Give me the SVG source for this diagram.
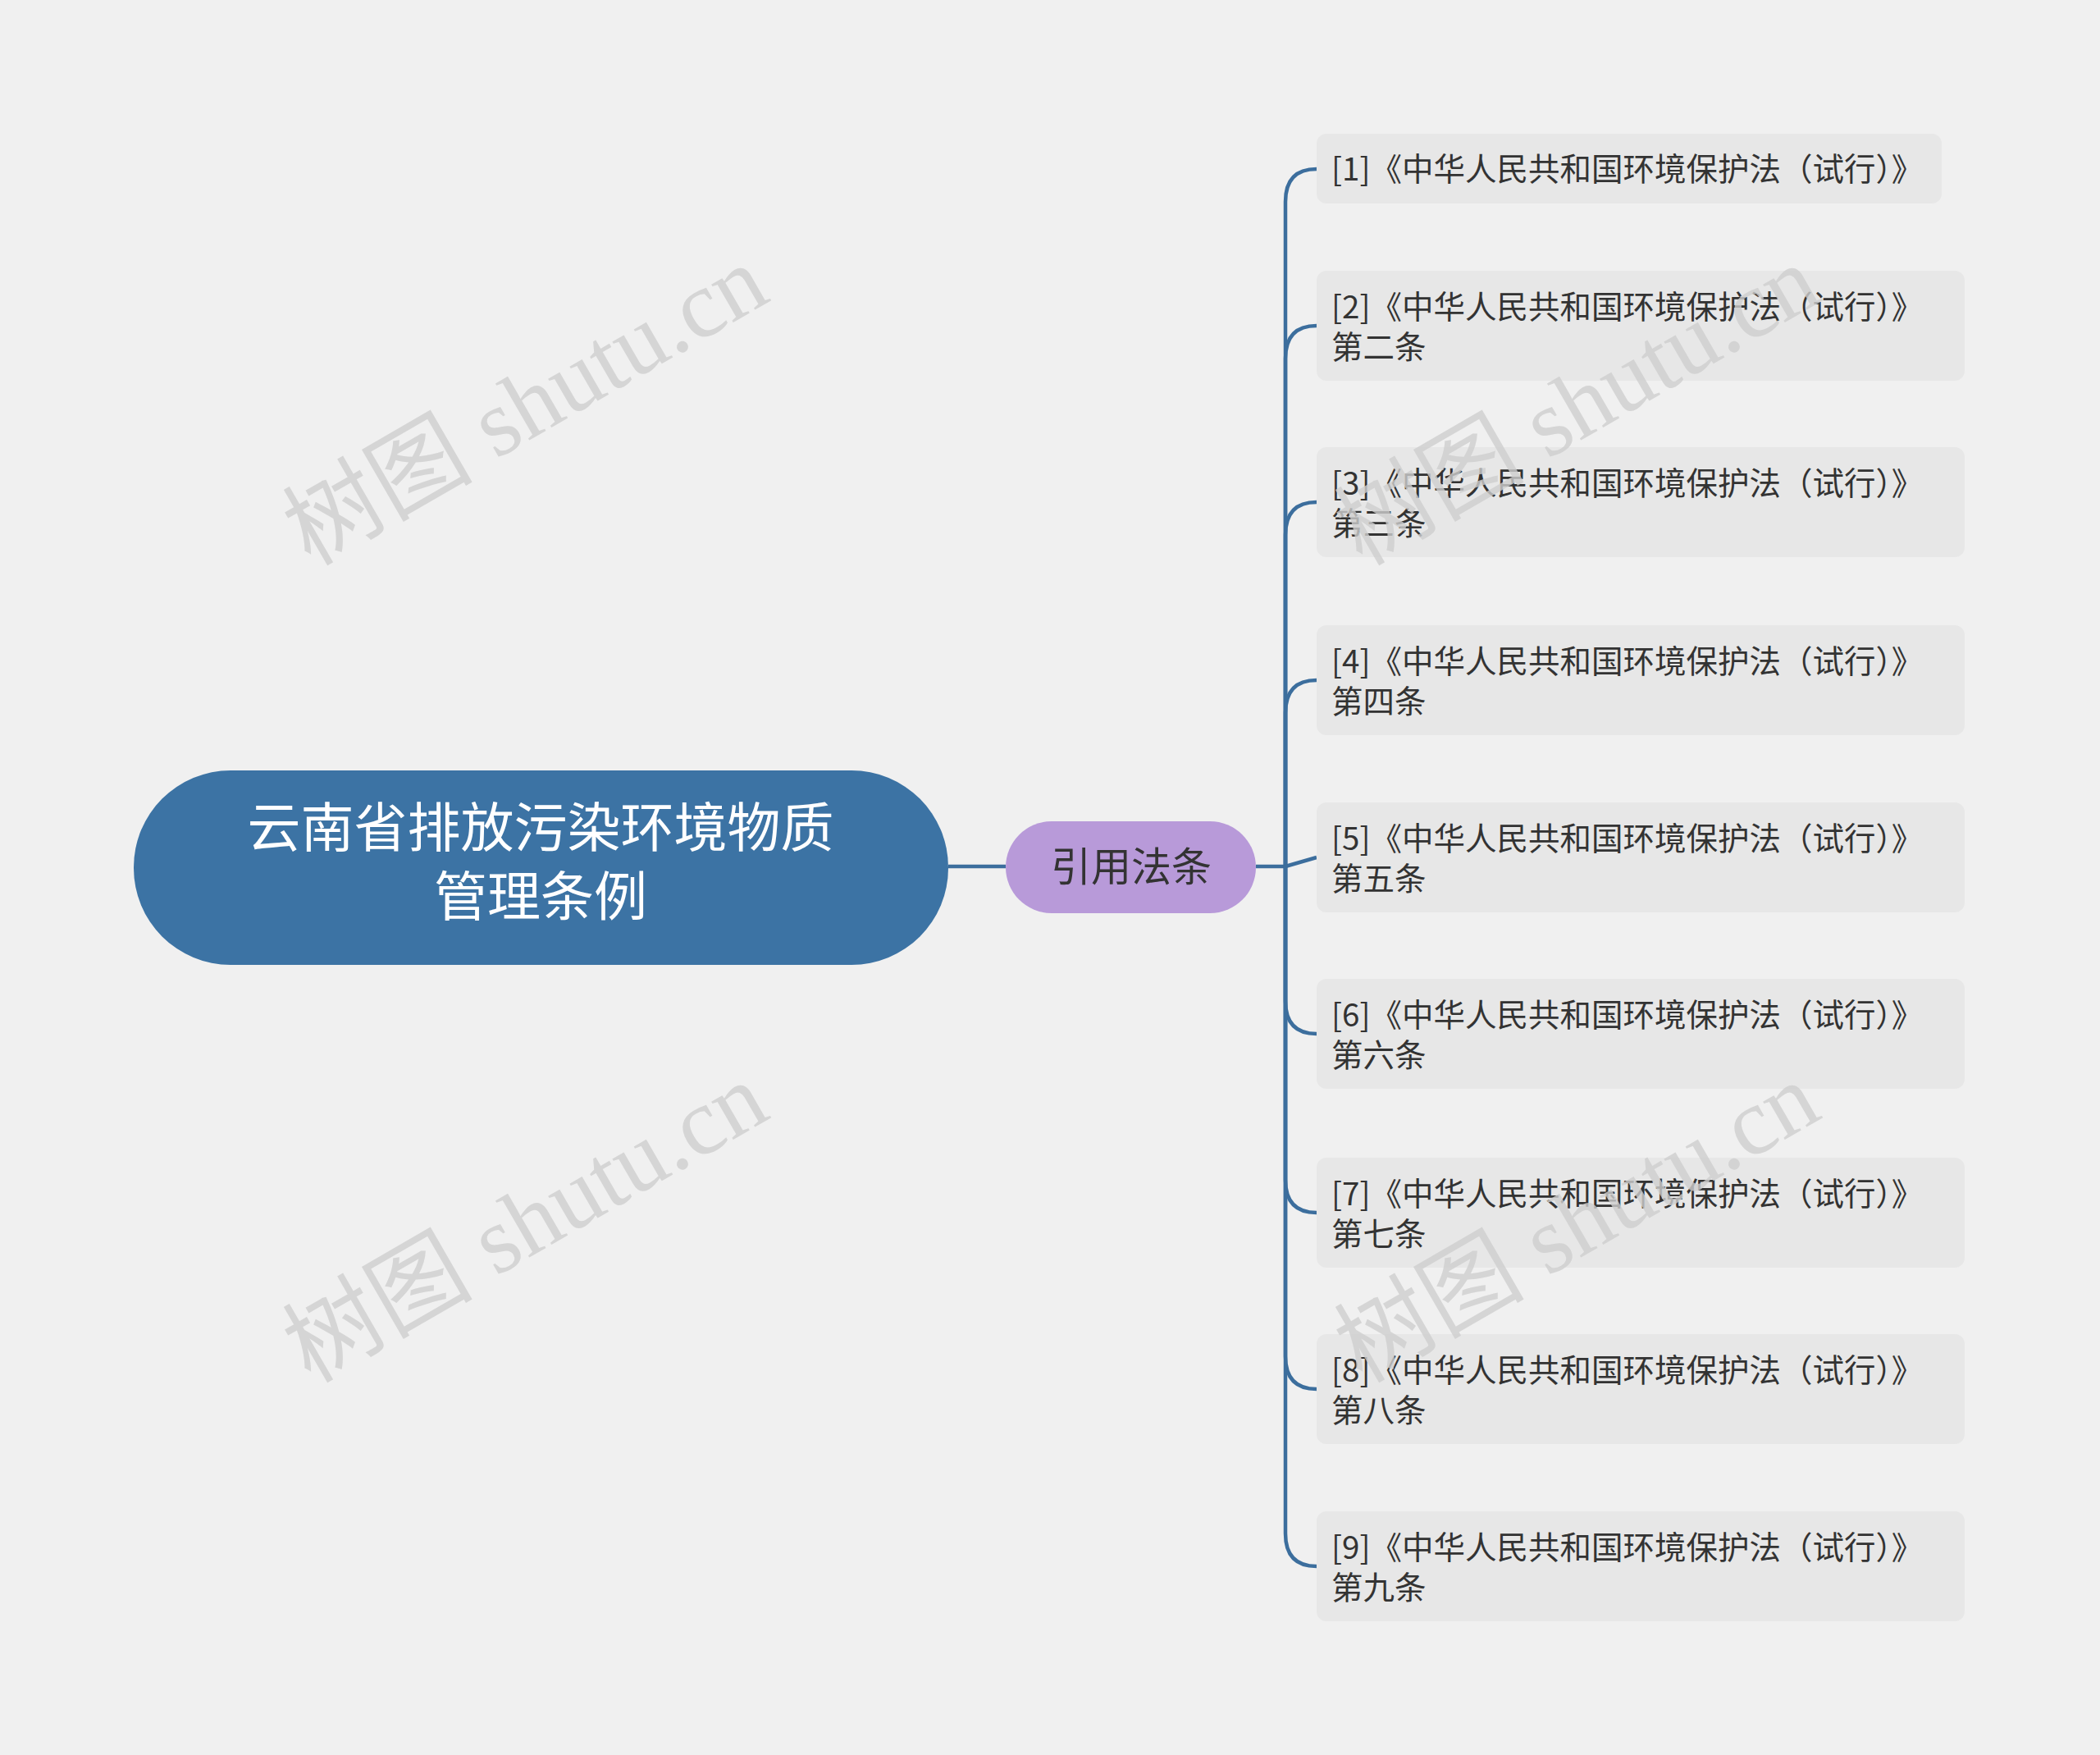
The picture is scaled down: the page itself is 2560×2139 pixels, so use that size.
<svg xmlns="http://www.w3.org/2000/svg" width="2560" height="2139" viewBox="0 0 2560 2139">
<style>
.leaf{fill:#e7e7e7}
.lt{font-family:"Noto Sans CJK SC","Noto Sans",sans-serif;font-size:38.5px;fill:#333}
.c{fill:none;stroke:#3c6e9d;stroke-width:4.5}
.wm{font-family:"Liberation Serif","Noto Sans CJK SC",serif;font-size:116px;fill:#cfcfcf;opacity:0.8}
</style>
<rect width="2560" height="2139" fill="#f0f0f0"/>
<g id="connectors">
<path class="c" d="M1156 1056 L1226 1056"/>
<path class="c" d="M1531 1056 L1567 1056"/>
<path class="c" d="M1567 1056 L1567 246 Q1567 206 1605 206"/>
<path class="c" d="M1567 1056 L1567 437 Q1567 397 1605 397"/>
<path class="c" d="M1567 1056 L1567 652 Q1567 612 1605 612"/>
<path class="c" d="M1567 1056 L1567 869 Q1567 829 1605 829"/>
<path class="c" d="M1567 1056 L1605 1045"/>
<path class="c" d="M1567 1056 L1567 1220 Q1567 1260 1605 1260"/>
<path class="c" d="M1567 1056 L1567 1438 Q1567 1478 1605 1478"/>
<path class="c" d="M1567 1056 L1567 1653 Q1567 1693 1605 1693"/>
<path class="c" d="M1567 1056 L1567 1869 Q1567 1909 1605 1909"/>
</g>
<g id="root">
<rect x="163" y="939" width="993" height="237" rx="118" fill="#3c73a4"/>
<text x="659" y="1032" text-anchor="middle" font-family="Noto Sans CJK SC,sans-serif" font-size="65" fill="#fff">云南省排放污染环境物质</text>
<text x="659" y="1116" text-anchor="middle" font-family="Noto Sans CJK SC,sans-serif" font-size="65" fill="#fff">管理条例</text>
</g>
<g id="mid">
<rect x="1226" y="1001" width="305" height="112" rx="56" fill="#b89ad9"/>
<text x="1379" y="1074" text-anchor="middle" font-family="Noto Sans CJK SC,sans-serif" font-size="49" fill="#333">引用法条</text>
</g>
<g id="leaf1"><rect class="leaf" x="1605" y="163" width="762" height="85" rx="12"/><text class="lt" x="1623" y="220">[1]《中华人民共和国环境保护法（试行）》</text></g>
<g id="leaf2"><rect class="leaf" x="1605" y="330" width="790" height="134" rx="12"/><text class="lt" x="1623" y="388">[2]《中华人民共和国环境保护法（试行）》</text><text class="lt" x="1623" y="437">第二条</text></g>
<g id="leaf3"><rect class="leaf" x="1605" y="545" width="790" height="134" rx="12"/><text class="lt" x="1623" y="603">[3]《中华人民共和国环境保护法（试行）》</text><text class="lt" x="1623" y="652">第三条</text></g>
<g id="leaf4"><rect class="leaf" x="1605" y="762" width="790" height="134" rx="12"/><text class="lt" x="1623" y="820">[4]《中华人民共和国环境保护法（试行）》</text><text class="lt" x="1623" y="869">第四条</text></g>
<g id="leaf5"><rect class="leaf" x="1605" y="978" width="790" height="134" rx="12"/><text class="lt" x="1623" y="1036">[5]《中华人民共和国环境保护法（试行）》</text><text class="lt" x="1623" y="1085">第五条</text></g>
<g id="leaf6"><rect class="leaf" x="1605" y="1193" width="790" height="134" rx="12"/><text class="lt" x="1623" y="1251">[6]《中华人民共和国环境保护法（试行）》</text><text class="lt" x="1623" y="1300">第六条</text></g>
<g id="leaf7"><rect class="leaf" x="1605" y="1411" width="790" height="134" rx="12"/><text class="lt" x="1623" y="1469">[7]《中华人民共和国环境保护法（试行）》</text><text class="lt" x="1623" y="1518">第七条</text></g>
<g id="leaf8"><rect class="leaf" x="1605" y="1626" width="790" height="134" rx="12"/><text class="lt" x="1623" y="1684">[8]《中华人民共和国环境保护法（试行）》</text><text class="lt" x="1623" y="1733">第八条</text></g>
<g id="leaf9"><rect class="leaf" x="1605" y="1842" width="790" height="134" rx="12"/><text class="lt" x="1623" y="1900">[9]《中华人民共和国环境保护法（试行）》</text><text class="lt" x="1623" y="1949">第九条</text></g>
<g id="watermarks">
<text class="wm" text-anchor="middle" transform="translate(660,528) rotate(-30)">树图 shutu.cn</text>
<text class="wm" text-anchor="middle" transform="translate(660,1524) rotate(-30)">树图 shutu.cn</text>
<text class="wm" text-anchor="middle" transform="translate(1942,528) rotate(-30)">树图 shutu.cn</text>
<text class="wm" text-anchor="middle" transform="translate(1942,1524) rotate(-30)">树图 shutu.cn</text>
</g>
</svg>
